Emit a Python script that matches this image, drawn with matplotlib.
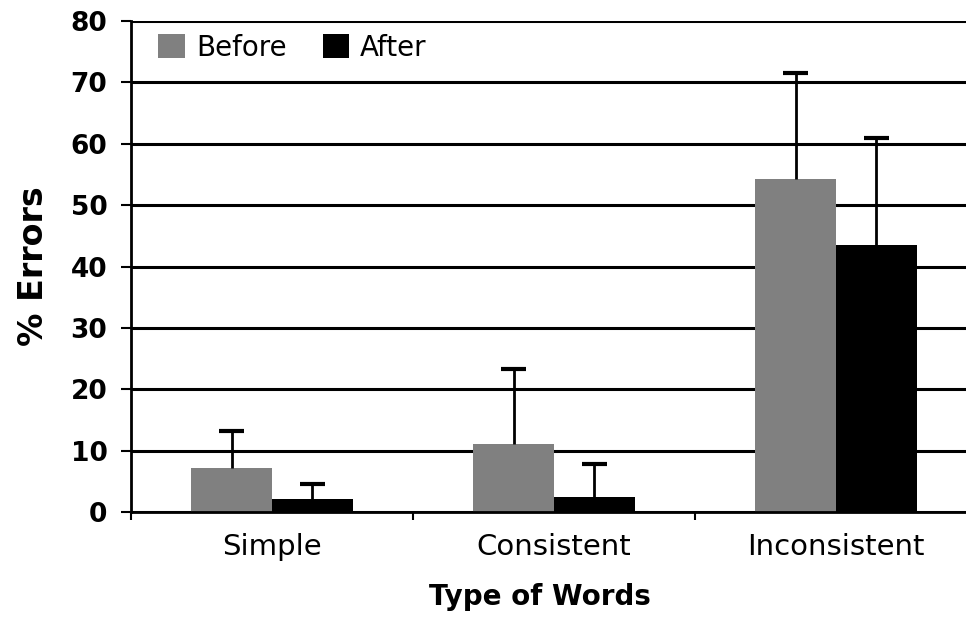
import numpy as np
import matplotlib
matplotlib.use("Agg")
import matplotlib.pyplot as plt

categories = ["Simple", "Consistent", "Inconsistent"]
before = [7.2, 11.0, 54.3]
after = [2.1, 2.5, 43.5]
before_err = [6.0, 12.3, 17.2]
after_err = [2.5, 5.3, 17.5]
y_ticks = [0, 10, 20, 30, 40, 50, 60, 70, 80]

fig = plt.figure(figsize=(9.66, 6.2), dpi=100)
ax = fig.add_axes([0.1356, 0.1742, 0.8644, 0.7919])

x = np.arange(len(categories))
w = 0.287
ax.bar(x - w / 2, before, w, color="#808080", label="Before", zorder=2)
ax.bar(x + w / 2, after, w, color="black", label="After", zorder=2)

# upper-only error bars with a single cap
cap = 0.045
for xs, vals, errs in [(x - w / 2, before, before_err), (x + w / 2, after, after_err)]:
    tops = np.array(vals) + np.array(errs)
    ax.vlines(xs, vals, tops, color="black", linewidth=2, zorder=3)
    ax.hlines(tops, xs - cap, xs + cap, color="black", linewidth=3, zorder=3)

ax.set_yticks(y_ticks)
ax.yaxis.grid(True, color="black", linewidth=2.2, zorder=1)
ax.set_axisbelow(True)

# category boundary ticks, labels at centres
ax.set_xticks([-0.5, 0.5, 1.5, 2.5])
ax.set_xticklabels([])
ax.set_xticks(x, minor=True)
ax.set_xticklabels(categories, minor=True, fontsize=21)
ax.tick_params(axis="x", which="minor", length=0, pad=15)
ax.tick_params(axis="x", which="major", length=6, width=1.5, direction="out")
ax.tick_params(axis="y", length=7, width=1.5, labelsize=19, pad=10)
for lbl in ax.get_yticklabels():
    lbl.set_fontweight("bold")
ax.set_ylim(0, 80)
ax.set_xlim(-0.5, 2.461)

for side in ["top", "right"]:
    ax.spines[side].set_visible(False)
ax.spines["left"].set_linewidth(2)
ax.spines["bottom"].set_linewidth(2)

ax.set_xlabel("Type of Words", fontsize=20, fontweight="bold")
ax.xaxis.set_label_coords(0.49, -0.145)
ax.set_ylabel("% Errors", fontsize=24, fontweight="bold")
ax.yaxis.set_label_coords(-0.097, 0.5)

ax.legend(loc="upper left", ncol=2, frameon=False, fontsize=20,
          handlelength=0.95, handleheight=0.95, handletextpad=0.4,
          columnspacing=1.3, bbox_to_anchor=(0.003, 1.025))

fig.savefig("out.png", dpi=100)
